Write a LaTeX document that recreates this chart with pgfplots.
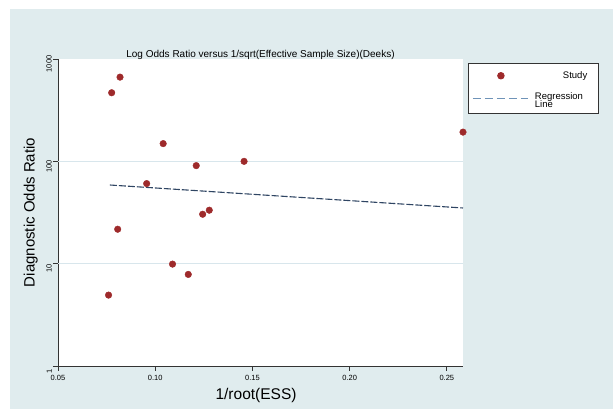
\documentclass[border=0pt]{standalone}
\usepackage{pgfplots}
\pgfplotsset{compat=1.18}
\usepackage{fontspec}
\setmainfont{Liberation Sans}
\definecolor{bgc}{HTML}{E0ECEE}
\definecolor{dotc}{HTML}{9E2A2B}
\definecolor{regc}{HTML}{2F4563}
\definecolor{regl}{HTML}{6F93B8}
\definecolor{gridc}{HTML}{D8E6EC}
\definecolor{axc}{HTML}{333333}
\pgfplotsset{
  studyleg/.style={legend image code/.code={\draw[white, line width=0.1pt] (0pt,0pt) -- (60pt,0pt); \fill[dotc] (28pt,0pt) circle (3.3pt);}},
  regleg/.style={legend image code/.code={\draw[white, line width=0.1pt] (0pt,0pt) -- (60pt,0pt); \draw[regl, line width=1.3pt, dash pattern=on 8pt off 4pt] (0pt,0pt) -- (55pt,0pt);}},
}
\begin{document}
\begin{tikzpicture}
\path[use as bounding box] (0pt,0pt) rectangle (613pt,409pt);
\fill[bgc] (10pt,0pt) rectangle (613pt,400pt);
\begin{axis}[
  at={(58pt,43pt)}, anchor=origin,
  scale only axis, width=405pt, height=307pt,
  xmin=0.05, xmax=0.2583,
  ymode=log, ymin=1, ymax=1000,
  axis background/.style={fill=white},
  axis x line*=bottom, axis y line*=left,
  axis line style={axc, line width=0.9pt},
  every tick/.style={axc, line width=0.8pt},
  tick align=outside, major tick length=5pt,
  yminorticks=false, xminorticks=false,
  xtick={0.05,0.10,0.15,0.20,0.25},
  xticklabels={0.05,0.10,0.15,0.20,0.25},
  ytick={1,10,100,1000},
  yticklabels={1,10,100,1000},
  extra y ticks={10,100},
  extra y tick labels={},
  extra y tick style={grid=major, major tick length=0pt, major grid style={gridc, line width=0.9pt}},
  /pgf/number format/assume math mode=true,
  xticklabel style={font=\fontsize{7.5}{7.5}\selectfont, inner sep=1pt, yshift=-3pt},
  yticklabel style={font=\fontsize{7.5}{7.5}\selectfont, rotate=90, anchor=south, inner sep=1pt, xshift=-5pt},
  title={Log Odds Ratio versus 1/sqrt(Effective Sample Size)(Deeks)},
  title style={font=\fontsize{10}{10}\selectfont, at={(0.5,1)}, anchor=south, inner sep=0pt, yshift=-7pt},
  xlabel={1/root(ESS)},
  xlabel style={font=\fontsize{15.5}{15.5}\selectfont, at={(0.489,-0.095)}, anchor=center, inner sep=0pt},
  ylabel={Diagnostic Odds Ratio},
  ylabel style={font=\fontsize{15}{15}\selectfont, at={(-0.067,0.5)}, anchor=center, inner sep=0pt},
  legend style={draw=axc, line width=0.8pt, fill=white, at={(1.012,0.987)}, anchor=north west,
    font=\fontsize{9.5}{10}\selectfont, inner xsep=4pt, inner ysep=6pt, row sep=8pt},
  legend cell align=left,
  clip=false,
]
\addplot[only marks, mark=*, mark size=3.3pt, color=dotc, studyleg]
  coordinates {
  (0.0776,468) (0.0819,665) (0.1041,149) (0.1211,90.8) (0.1457,100)
  (0.0956,60.6) (0.1244,30.4) (0.1278,33.3) (0.0807,21.7) (0.1089,9.9)
  (0.1170,7.85) (0.0760,4.93) (0.2583,193)
  };
\addlegendentry{\begin{tabular}{@{}l@{}}\hspace*{28pt}Study\end{tabular}}
\addplot[regc, line width=1.1pt, dash pattern=on 7pt off 2pt, regleg]
  coordinates {(0.0767,58.7) (0.2583,35.0)};
\addlegendentry{\begin{tabular}{@{}l@{\hspace{9pt}}}Regression\\[-1.5pt]Line\end{tabular}}
\end{axis}
\end{tikzpicture}
\end{document}
